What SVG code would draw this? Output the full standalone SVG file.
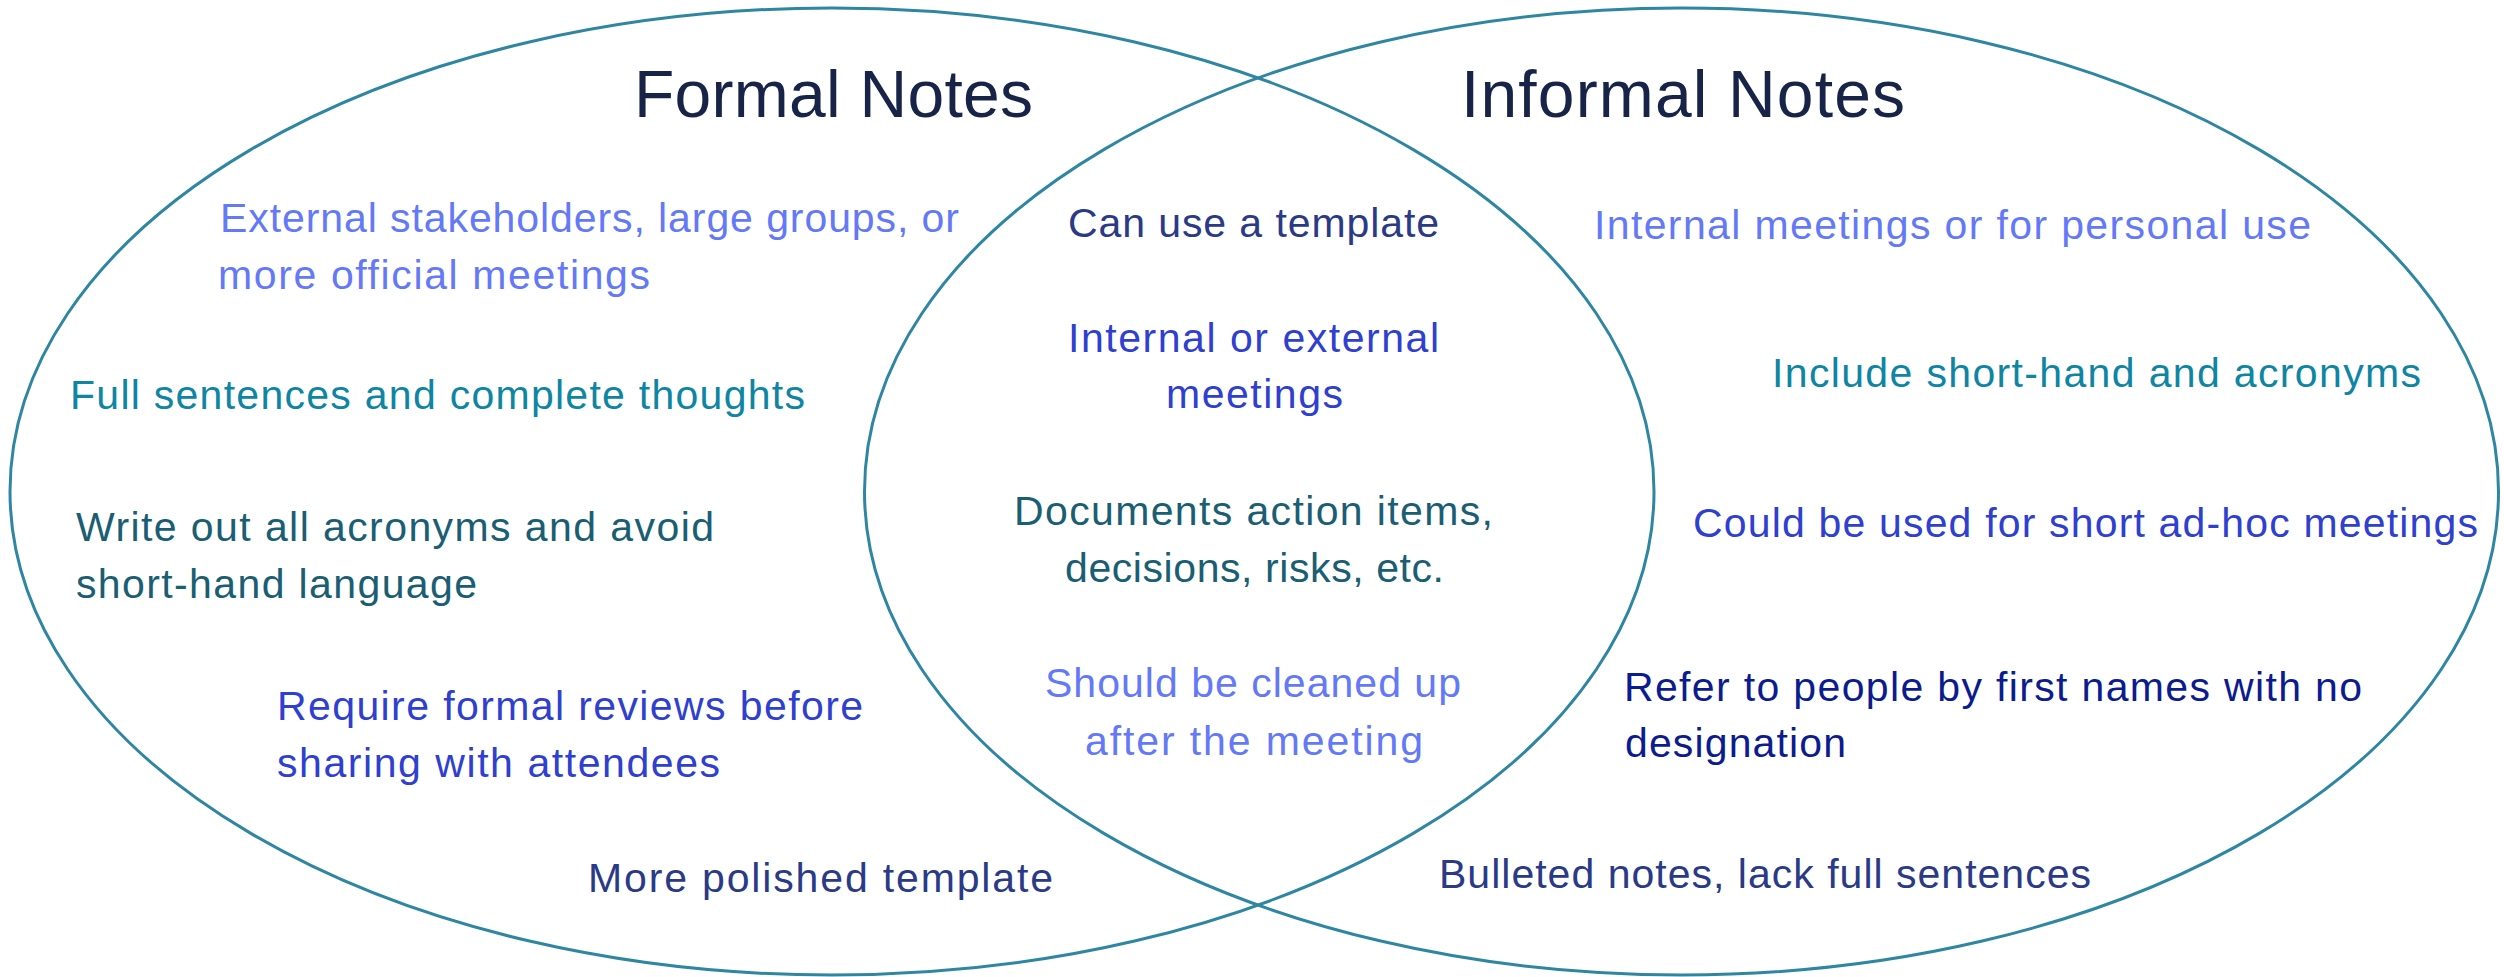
<svg xmlns="http://www.w3.org/2000/svg" width="2504" height="977" viewBox="0 0 2504 977">
  <style>
    .set { fill: none; stroke: #2E86A2; stroke-width: 3; }
    text { font-family: "Liberation Sans", Arial, sans-serif; }
    .title { font-size: 66px; fill: #172447; }
    .item { font-size: 41px; }
    .lilac { fill: #6479F7; }
    .teal { fill: #0E86A3; }
    .deepteal { fill: #1A5E73; }
    .blue { fill: #2F3FCF; }
    .navy { fill: #2A3A86; }
    .ink { fill: #0C1C8E; }
  </style>
  <rect width="2504" height="977" fill="#FFFFFF"/>

  <!-- the two overlapping sets -->
  <g id="sets">
    <ellipse class="set" cx="832" cy="491.5" rx="822" ry="483.5"/>
    <ellipse class="set" cx="1681.5" cy="491.5" rx="817" ry="483.5"/>
  </g>

  <g id="formal-notes">
    <text class="title" x="634" y="117" textLength="399">Formal Notes</text>
    <text class="item lilac" x="220" y="232" textLength="739">External stakeholders, large groups, or</text>
    <text class="item lilac" x="218" y="289" textLength="432">more official meetings</text>
    <text class="item teal" x="70" y="409" textLength="735">Full sentences and complete thoughts</text>
    <text class="item deepteal" x="76" y="541" textLength="638">Write out all acronyms and avoid</text>
    <text class="item deepteal" x="76" y="598" textLength="401">short-hand language</text>
    <text class="item blue" x="277" y="720" textLength="586">Require formal reviews before</text>
    <text class="item blue" x="277" y="777" textLength="443">sharing with attendees</text>
    <text class="item navy" x="588" y="892" textLength="465">More polished template</text>
  </g>

  <g id="shared">
    <text class="item navy" x="1068" y="237" textLength="371">Can use a template</text>
    <text class="item blue" x="1068" y="352" textLength="371">Internal or external</text>
    <text class="item blue" x="1166" y="408" textLength="177">meetings</text>
    <text class="item deepteal" x="1014" y="525" textLength="479">Documents action items,</text>
    <text class="item deepteal" x="1065" y="582" textLength="379">decisions, risks, etc.</text>
    <text class="item lilac" x="1045" y="697" textLength="416">Should be cleaned up</text>
    <text class="item lilac" x="1085" y="755" textLength="338">after the meeting</text>
  </g>

  <g id="informal-notes">
    <text class="title" x="1461" y="117" textLength="444">Informal Notes</text>
    <text class="item lilac" x="1594" y="239" textLength="717">Internal meetings or for personal use</text>
    <text class="item teal" x="1772" y="387" textLength="649">Include short-hand and acronyms</text>
    <text class="item blue" x="1693" y="537" textLength="785">Could be used for short ad-hoc meetings</text>
    <text class="item ink" x="1624" y="701" textLength="738">Refer to people by first names with no</text>
    <text class="item ink" x="1625" y="757" textLength="221">designation</text>
    <text class="item navy" x="1439" y="888" textLength="652">Bulleted notes, lack full sentences</text>
  </g>
</svg>
